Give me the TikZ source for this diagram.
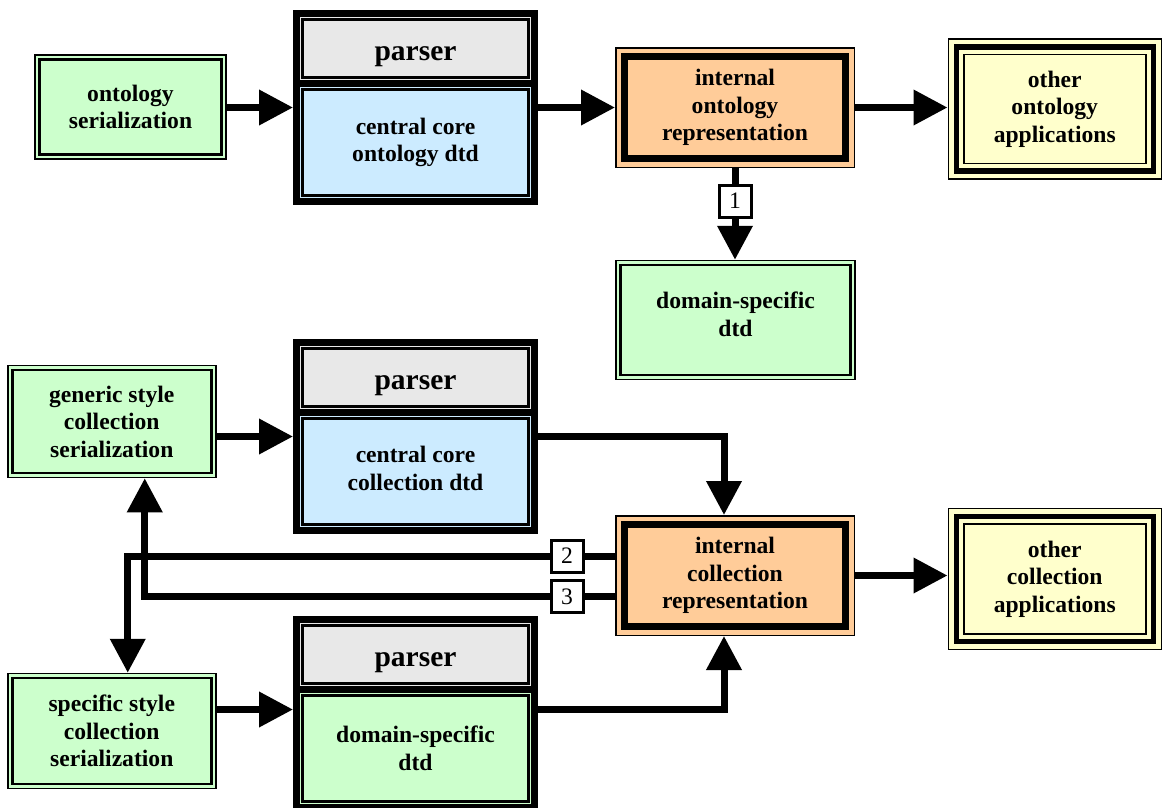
\documentclass[tikz,border=0pt]{standalone}
\usepackage{fontspec}
\setmainfont{Liberation Serif}
\usetikzlibrary{arrows.meta,fit}

\definecolor{sergreen}{HTML}{CCFFCC}
\definecolor{coreblue}{HTML}{CCEBFF}
\definecolor{parsegray}{HTML}{E8E8E8}
\definecolor{reppeach}{HTML}{FFCC99}
\definecolor{appcream}{HTML}{FFFFCC}

\tikzset{
    boxtext/.style={font=\bfseries\fontsize{23.6}{27.5}\selectfont, align=center, inner sep=0pt},
    innerframe/.style 2 args={path picture={\draw[line width=#2] ([shift={(#1,-#1)}]path picture bounding box.north west) rectangle ([shift={(-#1,#1)}]path picture bounding box.south east);}},
    serbox/.style={boxtext, draw, line width=1.5pt, fill=sergreen, innerframe={4.5pt}{2.5pt}},
    repbox/.style={boxtext, draw, line width=1.5pt, fill=reppeach, innerframe={8.5pt}{7pt}, minimum width=238.5pt, minimum height=119.5pt},
    appbox/.style={boxtext, draw, line width=1.5pt, fill=appcream, minimum width=213pt,
        path picture={
            \draw[line width=5.5pt] ([shift={(8pt,-8pt)}]path picture bounding box.north west) rectangle ([shift={(-8pt,8pt)}]path picture bounding box.south east);
            \draw[line width=1.5pt] ([shift={(15.5pt,-15.5pt)}]path picture bounding box.north west) rectangle ([shift={(-15.5pt,15.5pt)}]path picture bounding box.south east);
        }},
    parsetop/.style={boxtext, font=\bfseries\fontsize{29.5}{34}\selectfont, text height=23pt, text depth=0pt, fill=parsegray, outer sep=0pt, minimum width=238pt, minimum height=70pt, innerframe={6pt}{2.5pt}},
    parsecore/.style={boxtext, outer sep=0pt, minimum width=238pt, minimum height=118pt, innerframe={6pt}{2.5pt}},
    pframe/.style={draw, line width=7pt, inner sep=0pt},
    numbox/.style={draw, line width=3pt, fill=white, minimum size=32pt, inner sep=0pt, font=\fontsize{23.6}{27.5}\selectfont},
    arr/.style={line width=7pt, -{Triangle[length=34pt, width=34pt]}},
}

\begin{document}
\begin{tikzpicture}[x=1pt, y=-1pt]
    \useasboundingbox (0,0) rectangle (1163,807);
    \clip (0,0) rectangle (1163,807);

    \node[serbox, minimum width=191pt, minimum height=104pt] (ontser) at (130.5,107) {ontology\\serialization};
    \node[parsetop] (p1gray) at (415.5,48.5) {parser};
    \node[parsecore, fill=coreblue] (p1core) at (415.5,142.5) {central core\\ontology dtd};
    \node[pframe, fit=(p1gray)(p1core)] (p1) {};
    \draw[line width=7pt] (p1gray.south west) -- (p1gray.south east);
    \node[repbox] (intont) at (735,107.5) {internal\\ontology\\representation};
    \node[appbox, minimum height=140pt] (appont) at (1054.75,109) {other\\ontology\\applications};
    \node[serbox, minimum width=239pt, minimum height=119pt, text depth=12pt] (domtop) at (735.5,320) {domain-specific\\dtd};

    \draw[arr] (p1.west -| ontser.east) -- (p1.west);
    \draw[arr] (p1.east) -- (p1.east -| intont.west);
    \draw[arr] (intont.east) -- (intont.east -| appont.west);
    \draw[arr] (intont.south) -- (intont.south |- domtop.north);
    \node[numbox] (n1) at (735,201) {1};

    \node[serbox, minimum width=208pt, minimum height=112pt] (genser) at (111.75,421.5) {generic style\\collection\\serialization};
    \node[parsetop] (p2gray) at (415.5,377.5) {parser};
    \node[parsecore, fill=coreblue, text depth=6pt] (p2core) at (415.5,471.5) {central core\\collection dtd};
    \node[pframe, fit=(p2gray)(p2core)] (p2) {};
    \draw[line width=7pt] (p2gray.south west) -- (p2gray.south east);
    \node[repbox] (intcol) at (735,575.5) {internal\\collection\\representation};
    \node[appbox, minimum height=141pt] (appcol) at (1054.75,579) {other\\collection\\applications};
    \node[serbox, minimum width=208pt, minimum height=115pt] (specser) at (111.75,731) {specific style\\collection\\serialization};
    \node[parsetop] (p3gray) at (415.5,654.5) {parser};
    \node[parsecore, fill=sergreen] (p3core) at (415.5,748.5) {domain-specific\\dtd};
    \node[pframe, fit=(p3gray)(p3core)] (p3) {};
    \draw[line width=7pt] (p3gray.south west) -- (p3gray.south east);

    \coordinate (colin) at (724,0);
    \coordinate (p3in) at ([yshift=4pt]p3.west);
    \coordinate (p3out) at ([yshift=4pt]p3.east);
    \coordinate (fb2) at ([yshift=19.5pt]intcol.west);
    \coordinate (fb3) at ([yshift=-21pt]intcol.west);

    \draw[arr] (p2.west -| genser.east) -- (p2.west);
    \draw[arr] (p3in -| specser.east) -- (p3in);
    \draw[arr] (p2.east) -| (colin |- intcol.north);
    \draw[arr] (p3out) -| (colin |- intcol.south);
    \draw[arr] (intcol.east) -- (intcol.east -| appcol.west);
    \draw[arr] (fb2) -| ([xshift=16pt]specser.north);
    \draw[arr] (fb3) -| ([xshift=33pt]genser.south);
    \node[numbox] (n2) at (567,556) {2};
    \node[numbox] (n3) at (567,596.5) {3};
\end{tikzpicture}
\end{document}
